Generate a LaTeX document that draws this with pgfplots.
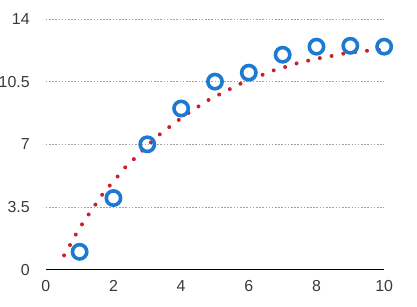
\documentclass[border=0pt]{standalone}
\usepackage{fontspec}
\setmainfont{Liberation Sans}
\usepackage{pgfplots}
\pgfplotsset{compat=1.18}
\definecolor{ptblue}{HTML}{1C7AD2}
\definecolor{trendred}{HTML}{C8202C}
\definecolor{txtgray}{HTML}{3A3A3A}
\definecolor{gridgray}{HTML}{A0A0A0}
\begin{document}
\begin{tikzpicture}
\useasboundingbox (-46pt,-37pt) rectangle (373pt,271pt);
\begin{axis}[
  at={(0pt,0pt)}, anchor=south west,
  scale only axis,
  width=340pt, height=252pt,
  xmin=0, xmax=10, ymin=0, ymax=14,
  axis x line=bottom, axis y line=left,
  x axis line style={-, draw=black, line width=1.2pt},
  y axis line style={draw=none},
  major tick length=0pt,
  xtick={0,2,4,6,8,10},
  xticklabels={0,2,4,6,8,10},
  ytick={0,3.5,7,10.5,14},
  yticklabels={0,3.5,7,10.5,14},
  tick label style={font=\fontsize{16}{18}\selectfont, text=txtgray, inner sep=0pt},
  xticklabel shift=11pt,
  yticklabel shift=16pt,
  ymajorgrids,
  grid style={gridgray, line width=0.6pt, dash pattern=on 1.6pt off 1.6pt},
  clip=false,
]
\addplot[only marks, mark=o, mark size=7.2pt, mark options={draw=ptblue, line width=3.6pt, fill=white}]
coordinates {(1,1) (2,4) (3,7) (4,9) (5,10.5) (6,11) (7,12) (8,12.45) (9,12.5) (10,12.45)};
\addplot[trendred, line width=4pt, line cap=round, dash pattern=on 0pt off 12pt, smooth]
coordinates {(0.54,0.8) (0.72,1.39) (0.88,1.94) (1.06,2.5) (1.27,3.09) (1.48,3.67) (1.68,4.22) (1.9,4.72) (2.14,5.24) (2.37,5.76) (2.63,6.22) (2.87,6.68) (3.12,7.13) (3.39,7.59) (3.69,8.02) (3.98,8.43) (4.27,8.82) (4.56,9.17) (4.85,9.52) (5.18,9.83) (5.49,10.13) (5.81,10.43) (6.14,10.67) (6.47,10.93) (6.8,11.17) (7.14,11.35) (7.49,11.56) (7.83,11.7) (8.19,11.85) (8.54,11.96) (8.88,12.09) (9.23,12.17) (9.59,12.24) (9.95,12.29)};
\end{axis}
\end{tikzpicture}
\end{document}
